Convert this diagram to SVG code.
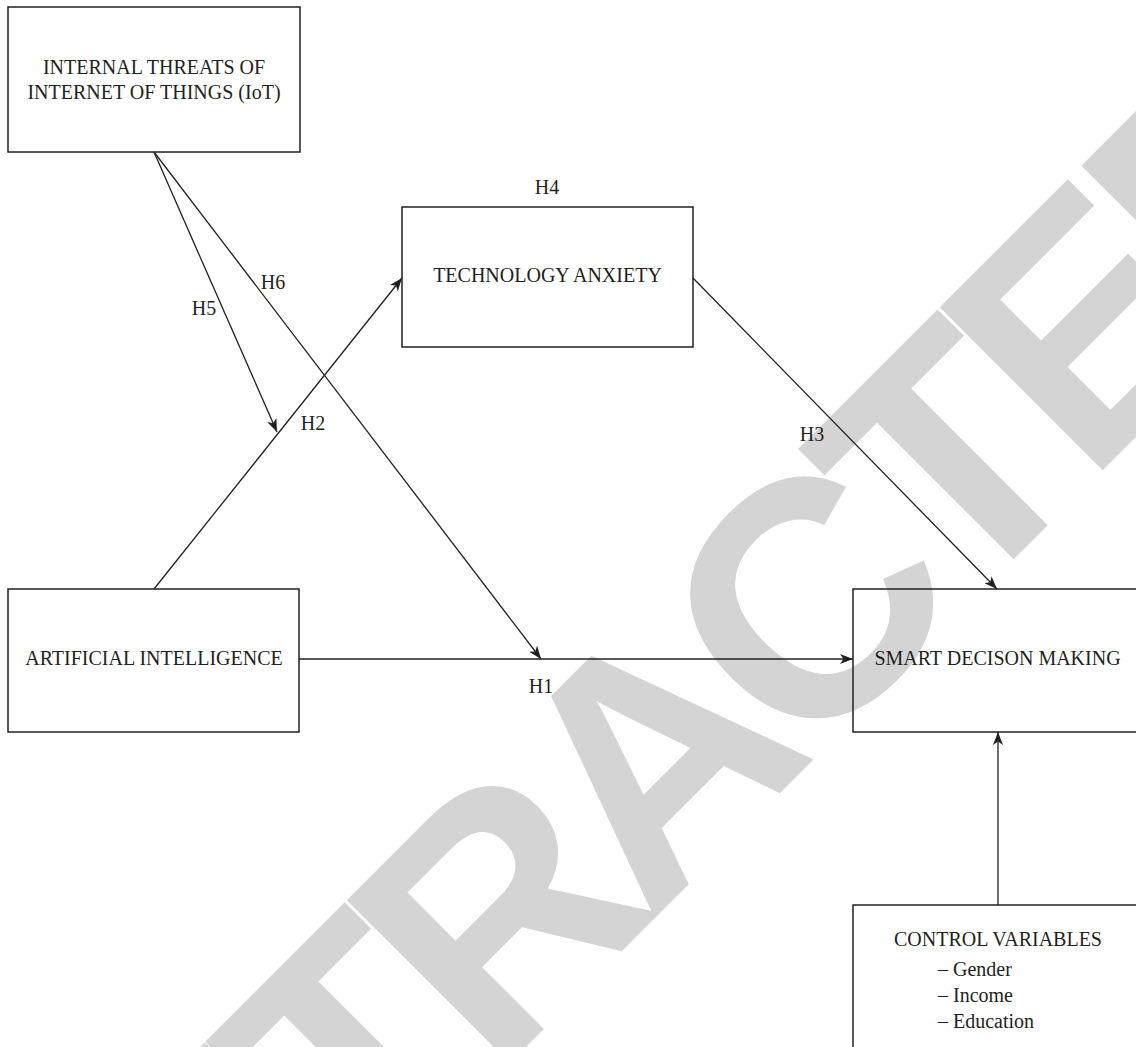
<svg xmlns="http://www.w3.org/2000/svg" width="1136" height="1047" viewBox="0 0 1136 1047">
  <style>
    .box { fill: none; stroke: #231f20; stroke-width: 1.5; }
    .lbl { font-family: "Liberation Serif", "Times New Roman", serif; font-size: 20px; fill: #231f20; }
    .mid { text-anchor: middle; }
    .edge { stroke: #231f20; stroke-width: 1.3; fill: none; marker-end: url(#arr); }
    .wm { font-family: "Liberation Sans", Arial, sans-serif; font-weight: bold; font-size: 335px; fill: #d4d4d4; letter-spacing: -23px; }
  </style>
  <defs>
    <marker id="arr" markerUnits="userSpaceOnUse" markerWidth="14" markerHeight="10" refX="13" refY="5" orient="auto">
      <path d="M0,0 L13,5 L0,10 L3.5,5 Z" fill="#231f20"/>
    </marker>
  </defs>
  <rect width="1136" height="1047" fill="#ffffff"/>
  <g id="watermark">
    <text class="wm" transform="translate(69 1504) rotate(-45)" x="0" y="0">RETRACTED</text>
  </g>
  <g id="connectors">
    <line class="edge" x1="154" y1="152" x2="277" y2="432"/>
    <line class="edge" x1="154" y1="152" x2="541" y2="659"/>
    <line class="edge" x1="154" y1="589" x2="402" y2="278"/>
    <line class="edge" x1="693" y1="278" x2="997" y2="589"/>
    <line class="edge" x1="299" y1="659" x2="853" y2="659"/>
    <line class="edge" x1="998" y1="905" x2="998" y2="732"/>
    <text class="lbl mid" x="204" y="315">H5</text>
    <text class="lbl mid" x="273" y="289">H6</text>
    <text class="lbl mid" x="313" y="430">H2</text>
    <text class="lbl mid" x="547" y="194">H4</text>
    <text class="lbl mid" x="812" y="441">H3</text>
    <text class="lbl mid" x="541" y="693">H1</text>
  </g>
  <g id="iot">
    <rect class="box" x="8" y="7" width="292" height="145"/>
    <text class="lbl mid" x="154" y="74">INTERNAL THREATS OF</text>
    <text class="lbl mid" x="154" y="99">INTERNET OF THINGS (IoT)</text>
  </g>
  <g id="tech">
    <rect class="box" x="402" y="207" width="291" height="140"/>
    <text class="lbl mid" x="547.5" y="282">TECHNOLOGY ANXIETY</text>
  </g>
  <g id="ai">
    <rect class="box" x="8" y="589" width="291" height="143"/>
    <text class="lbl mid" x="154" y="665">ARTIFICIAL INTELLIGENCE</text>
  </g>
  <g id="smart">
    <rect class="box" x="853" y="589" width="300" height="143"/>
    <text class="lbl mid" x="997.5" y="665">SMART DECISON MAKING</text>
  </g>
  <g id="control">
    <rect class="box" x="853" y="905" width="300" height="160"/>
    <text class="lbl mid" x="998" y="946">CONTROL VARIABLES</text>
    <text class="lbl" x="938" y="976">– Gender</text>
    <text class="lbl" x="938" y="1002">– Income</text>
    <text class="lbl" x="938" y="1028">– Education</text>
  </g>
</svg>
